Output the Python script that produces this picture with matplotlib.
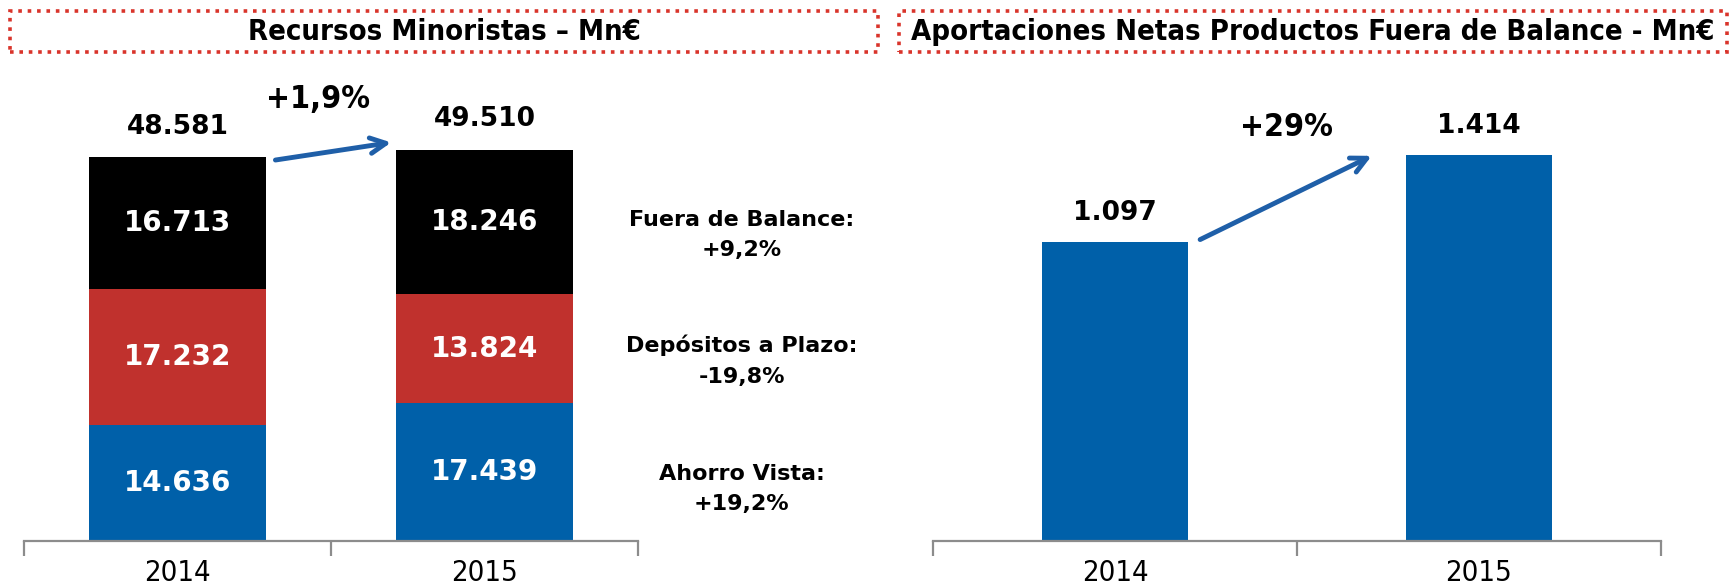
import matplotlib.pyplot as plt
from matplotlib import font_manager
from matplotlib.patches import Rectangle

# data
YEARS = ["2014", "2015"]
AHORRO_VISTA = [14636, 17439]
DEPOSITOS_PLAZO = [17232, 13824]
FUERA_BALANCE = [16713, 18246]
TOTALS = [48581, 49510]
APORTACIONES = [1097, 1414]

GROWTH_TOTAL = "+1,9%"
GROWTH_APORT = "+29%"
SIDE_NOTES = ["Fuera de Balance:\n+9,2%", "Depósitos a Plazo:\n-19,8%", "Ahorro Vista:\n+19,2%"]
TITLES = ["Recursos Minoristas – Mn€", "Aportaciones Netas Productos Fuera de Balance - Mn€"]

BLUE = "#0060A9"
RED = "#C0312D"
BLACK = "#000000"
ARROW = "#1F5FA8"
AXIS_GRAY = "#8C8C8C"

# look for a condensed face
cond = [f.fname for f in font_manager.fontManager.ttflist
        if "Condensed" in f.fname and "DejaVuSans" in f.fname and "Oblique" not in f.fname]
COND_REG = next((f for f in cond if "Bold" not in f), None)
COND_BOLD = next((f for f in cond if "Bold" in f), None)


def cond_font(size, bold=False):
    path = COND_BOLD if bold else COND_REG
    if path:
        return font_manager.FontProperties(fname=path, size=size)
    return font_manager.FontProperties(family="DejaVu Sans", size=size * 0.88,
                                       weight="bold" if bold else "normal")


def fmt(v):
    return f"{v:,}".replace(",", ".")


def style_axis(ax, ymax):
    ax.set_xlim(-0.5, 1.5)
    ax.set_ylim(0, ymax)
    for s in ["top", "right", "left"]:
        ax.spines[s].set_visible(False)
    ax.spines["bottom"].set_color(AXIS_GRAY)
    ax.spines["bottom"].set_linewidth(1.6)
    ax.set_yticks([])
    ax.set_xticks([0, 1])
    ax.set_xticklabels(YEARS, fontproperties=cond_font(21))
    ax.tick_params(axis="x", which="major", length=0, pad=13)
    ax.set_xticks([-0.5, 0.5, 1.5], minor=True)
    ax.tick_params(axis="x", which="minor", length=11, width=1.6,
                   color=AXIS_GRAY, direction="out")


fig = plt.figure(figsize=(17.31, 5.85), dpi=100)

# left: stacked bars
ax1 = fig.add_axes([24 / 1731, 44 / 585, 614 / 1731, 451 / 585])
x = [0, 1]
w = 0.576
bottom2 = [a + b for a, b in zip(AHORRO_VISTA, DEPOSITOS_PLAZO)]
ax1.bar(x, AHORRO_VISTA, width=w, color=BLUE)
ax1.bar(x, DEPOSITOS_PLAZO, width=w, bottom=AHORRO_VISTA, color=RED)
ax1.bar(x, FUERA_BALANCE, width=w, bottom=bottom2, color=BLACK)
for i in x:
    segs = [(0, AHORRO_VISTA[i]), (AHORRO_VISTA[i], DEPOSITOS_PLAZO[i]),
            (bottom2[i], FUERA_BALANCE[i])]
    for b, h in segs:
        ax1.text(i, b + h / 2, fmt(h), ha="center", va="center", color="white",
                 fontsize=20, fontweight="bold")
    top = bottom2[i] + FUERA_BALANCE[i]
    ax1.annotate(fmt(TOTALS[i]), (i, top), xytext=(0, 22), textcoords="offset points",
                 ha="center", va="center", fontsize=19, fontweight="bold")
style_axis(ax1, 57100)
ax1.annotate("", xy=(0.705, TOTALS[1] + 1000), xytext=(0.31, TOTALS[0] - 400),
             arrowprops=dict(arrowstyle="->", color=ARROW, lw=3.5, mutation_scale=28))
ax1.text(0.457, 55900, GROWTH_TOTAL, ha="center", va="center",
         fontproperties=cond_font(23, bold=True))

for note, yf in zip(SIDE_NOTES, [0.598, 0.383, 0.164]):
    fig.text(0.4286, yf, note, ha="center", va="center", fontsize=16,
             fontweight="bold", linespacing=1.65)

# right: simple bars
ax2 = fig.add_axes([933 / 1731, 44 / 585, 728 / 1731, 451 / 585])
ax2.bar(x, APORTACIONES, width=0.4, color=BLUE)
for i in x:
    ax2.annotate(fmt(APORTACIONES[i]), (i, APORTACIONES[i]), xytext=(0, 21),
                 textcoords="offset points", ha="center", va="center",
                 fontsize=19, fontweight="bold")
style_axis(ax2, 1654)
ax2.annotate("", xy=(0.712, 1417), xytext=(0.227, 1101),
             arrowprops=dict(arrowstyle="->", color=ARROW, lw=3.5, mutation_scale=28))
ax2.text(0.47, 1518, GROWTH_APORT, ha="center", va="center",
         fontproperties=cond_font(23, bold=True))

# titles with dotted red frames
for (x0, x1), title in zip([(10, 878), (899, 1727)], TITLES):
    fig.patches.append(Rectangle((x0 / 1731, 1 - 52 / 585), (x1 - x0) / 1731, 41 / 585,
                                 transform=fig.transFigure, fill=False,
                                 edgecolor="#D9342B", linestyle=(0, (1, 1.6)),
                                 linewidth=2.6))
    fig.text((x0 + x1) / 2 / 1731, 1 - 32 / 585, title, ha="center", va="center",
             fontproperties=cond_font(21, bold=True))

fig.savefig("out.png", dpi=100)
